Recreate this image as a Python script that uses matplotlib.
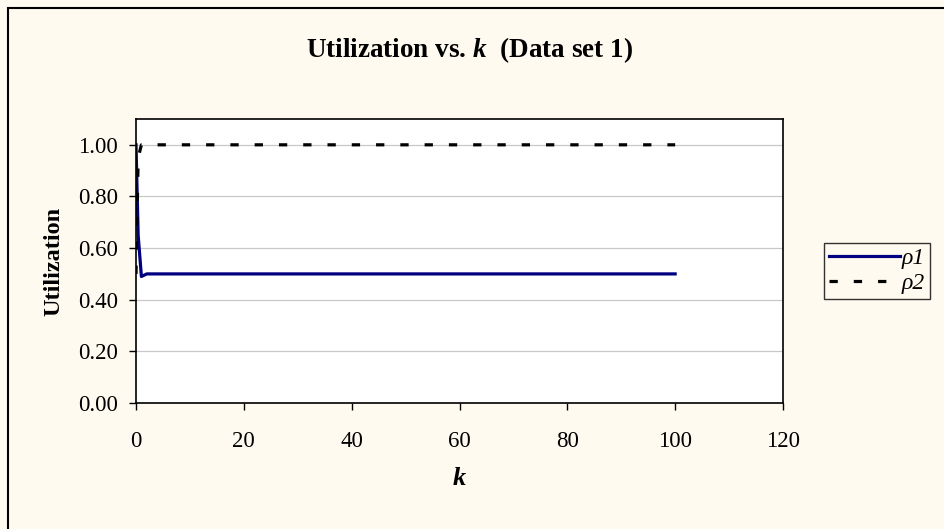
import matplotlib
matplotlib.use('Agg')

import matplotlib.pyplot as plt
from matplotlib.patches import Rectangle
from matplotlib.ticker import MultipleLocator, FormatStrFormatter

plt.rcParams['font.family'] = ['Liberation Serif', 'DejaVu Serif']
plt.rcParams['mathtext.fontset'] = 'custom'
plt.rcParams['mathtext.rm'] = 'Liberation Serif'
plt.rcParams['mathtext.it'] = 'Liberation Serif:italic'
plt.rcParams['mathtext.bf'] = 'Liberation Serif:bold:italic'

# data
k_vals = [0, 0.4, 1, 2, 5, 10, 20, 50, 100]
rho1 = [1.00, 0.65, 0.49, 0.50, 0.50, 0.50, 0.50, 0.50, 0.50]
rho2 = [0.50, 0.95, 1.00, 1.00, 1.00, 1.00, 1.00, 1.00, 1.00]
series_labels = [u'\u03c11', u'\u03c12']

bg = '#fffaf0'

fig = plt.figure(figsize=(9.44, 5.29), dpi=100)
fig.patch.set_facecolor(bg)
# outer chart border (right and bottom run off the picture)
fig.patches.append(Rectangle((8 / 944, -0.05), 1.2, 1 - 8 / 529 + 0.05,
                             transform=fig.transFigure, fill=False,
                             edgecolor='black', linewidth=1.5))

ax = fig.add_axes([136 / 944, 1 - 403 / 529, (783 - 136) / 944, (403 - 119) / 529])
ax.set_facecolor('white')

ax.plot(k_vals, rho1, color='#000080', linewidth=2.3, label=series_labels[0])
ax.plot(k_vals, rho2, color='black', linewidth=2.3, dashes=(2.6, 5.0),
        label=series_labels[1])

ax.set_xlim(0, 120)
ax.set_ylim(0, 1.1)
ax.xaxis.set_major_locator(MultipleLocator(20))
ax.yaxis.set_major_locator(MultipleLocator(0.2))
ax.yaxis.set_major_formatter(FormatStrFormatter('%.2f'))
ax.grid(axis='y', color='#c8c8c8', linewidth=0.9)
ax.set_axisbelow(True)
ax.tick_params(direction='out', length=5, width=1, labelsize=16.5, pad=8)
ax.tick_params(axis='x', pad=15)
for s in ax.spines.values():
    s.set_linewidth(1.2)

ax.set_xlabel(r'$\mathbf{k}$', fontsize=19, labelpad=12)
ax.set_ylabel('Utilization', fontsize=17.5, fontweight='bold', labelpad=10)

fig.text(0.497, 1 - 57 / 529, r'Utilization vs. $\mathbf{k}$  (Data set 1)',
         ha='center', va='baseline', fontsize=19.5, fontweight='bold')

leg = fig.legend(loc='upper left', bbox_to_anchor=(824 / 944, 1 - 243 / 529),
                 fontsize=17, frameon=True, fancybox=False, handlelength=3.0,
                 handletextpad=0.1, borderpad=0.2, labelspacing=0.15,
                 borderaxespad=0)
leg.get_frame().set_edgecolor('black')
leg.get_frame().set_facecolor(bg)
leg.get_frame().set_linewidth(1.0)
for t in leg.get_texts():
    t.set_fontstyle('italic')

plt.savefig('out.png', dpi=100, facecolor=bg)
